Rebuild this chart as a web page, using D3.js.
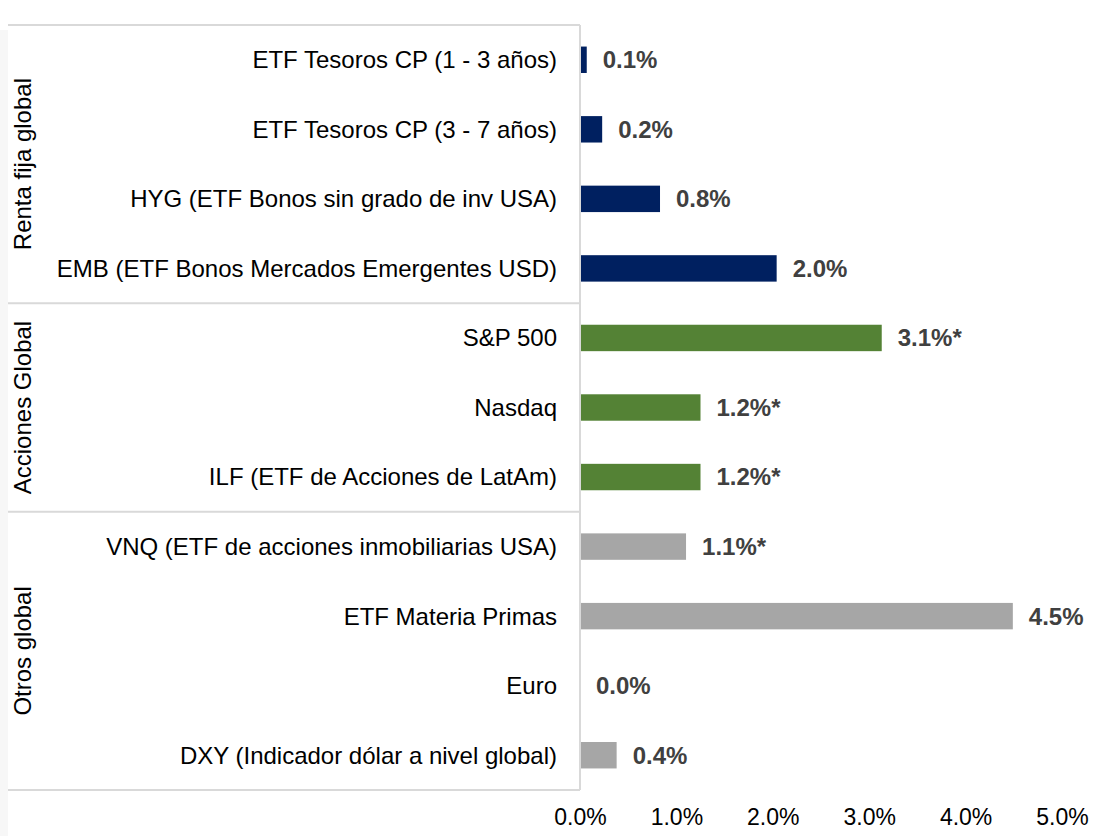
<!DOCTYPE html>
<html>
<head>
<meta charset="utf-8">
<script src="https://cdn.jsdelivr.net/npm/d3@7"></script>
<style>
    body { margin: 0; background: #fff; }
    text { font-family: 'Liberation Sans', Arial, sans-serif; }
    .frame { stroke: #d9d9d9; stroke-width: 2; fill: none; }
    .cat-label { font-size: 24px; fill: #000; }
    .group-label { font-size: 24px; fill: #000; }
    .value-label { font-size: 24px; font-weight: bold; fill: #404040; }
    .tick-label { font-size: 23px; fill: #000; }
</style>
</head>
<body>
<div id="chart"></div>
<script>
// Rendimiento por activo

const groups = ['Renta fija global', 'Acciones Global', 'Otros global'];
const groupStart = [0, 4, 7, 11];
const groupColors = ['#002060', '#548235', '#a6a6a6'];

const categories = [
    'ETF Tesoros CP (1 - 3 años)',
    'ETF Tesoros CP (3 - 7 años)',
    'HYG (ETF Bonos sin grado de inv USA)',
    'EMB (ETF Bonos Mercados Emergentes USD)',
    'S&P 500',
    'Nasdaq',
    'ILF (ETF de Acciones de LatAm)',
    'VNQ (ETF de acciones inmobiliarias USA)',
    'ETF Materia Primas',
    'Euro',
    'DXY (Indicador dólar a nivel global)'
];
const values = [0.07, 0.23, 0.83, 2.04, 3.13, 1.25, 1.25, 1.10, 4.49, 0.0, 0.38];
const valueLabels = ['0.1%', '0.2%', '0.8%', '2.0%', '3.1%*', '1.2%*', '1.2%*', '1.1%*', '4.5%', '0.0%', '0.4%'];
const groupOf = [0, 0, 0, 0, 1, 1, 1, 2, 2, 2, 2];
const tickValues = [0, 1, 2, 3, 4, 5];

(function () {
    'use strict';

    const width = 1106;
    const height = 836;

    const svg = d3.select('#chart').append('svg')
        .attr('width', width).attr('height', height);

    const x = d3.scaleLinear().domain([0, 5]).range([580, 1062]);
    const y = d3.scaleBand().domain(d3.range(categories.length))
        .range([25, 790]).paddingInner(0.62).paddingOuter(0.31);

    const step = y.step();
    const top = 25;
    const yEdge = function (k) { return top + step * k; };

    // franja gris a la izquierda
    svg.append('rect').attr('x', 0).attr('y', 30).attr('width', 8).attr('height', height - 30)
        .attr('fill', '#f7f7f7');

    // marco de grupos
    const frame = svg.append('g');
    groupStart.forEach(function (k) {
        frame.append('line').attr('class', 'frame')
            .attr('x1', 8).attr('x2', x(0))
            .attr('y1', yEdge(k)).attr('y2', yEdge(k));
    });
    frame.append('line').attr('class', 'frame')
        .attr('x1', x(0)).attr('x2', x(0))
        .attr('y1', yEdge(0)).attr('y2', yEdge(categories.length));

    // etiquetas de grupo (verticales)
    svg.append('g').selectAll('text').data(groups).enter().append('text')
        .attr('class', 'group-label')
        .attr('text-anchor', 'middle')
        .attr('transform', function (d, i) {
            const cy = (yEdge(groupStart[i]) + yEdge(groupStart[i + 1])) / 2;
            return 'translate(31,' + cy + ') rotate(-90)';
        })
        .text(function (d) { return d; });

    // etiquetas de categoría
    svg.append('g').selectAll('text').data(categories).enter().append('text')
        .attr('class', 'cat-label')
        .attr('text-anchor', 'end')
        .attr('x', x(0) - 23)
        .attr('y', function (d, i) { return y(i) + y.bandwidth() / 2; })
        .attr('dy', '0.35em')
        .text(function (d) { return d; });

    // barras
    svg.append('g').selectAll('rect').data(values).enter().append('rect')
        .attr('x', x(0) + 1)
        .attr('y', function (d, i) { return y(i); })
        .attr('height', y.bandwidth())
        .attr('width', function (d) { return Math.max(0, x(d) - x(0) - 1); })
        .attr('fill', function (d, i) { return groupColors[groupOf[i]]; });

    // valores
    svg.append('g').selectAll('text').data(values).enter().append('text')
        .attr('class', 'value-label')
        .attr('x', function (d) { return x(d) + 16; })
        .attr('y', function (d, i) { return y(i) + y.bandwidth() / 2; })
        .attr('dy', '0.35em')
        .text(function (d, i) { return valueLabels[i]; });

    // eje x
    const xAxis = d3.axisBottom(x).tickValues(tickValues).tickSize(0).tickPadding(0)
        .tickFormat(function (d) { return d.toFixed(1) + '%'; });
    const axisG = svg.append('g').attr('transform', 'translate(0,809)').call(xAxis);
    axisG.select('.domain').remove();
    axisG.selectAll('text').attr('class', 'tick-label')
        .attr('fill', null).attr('font-family', null).attr('font-size', null)
        .attr('dy', '0.71em').attr('y', 0);

}());
</script>
</body>
</html>
